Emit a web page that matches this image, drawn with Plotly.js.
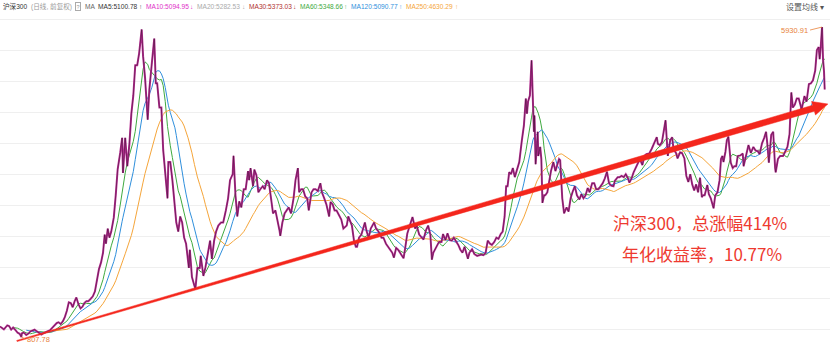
<!DOCTYPE html>
<html><head><meta charset="utf-8">
<script src="https://cdn.plot.ly/plotly-3.0.1.min.js"></script>
<style>html,body{margin:0;padding:0;background:#fff}#chart{width:830px;height:348px}</style>
</head><body><div id="chart"></div>
<script>
// ---- data (close prices, with the extreme highs/lows at turning points) ----
const dates = [
'2005-01-04','2005-01-17','2005-02-01','2005-02-25','2005-03-10','2005-03-25','2005-04-08','2005-04-25','2005-05-10','2005-05-25','2005-06-06','2005-06-10','2005-06-24','2005-07-11','2005-07-25','2005-08-10','2005-08-25','2005-09-09','2005-09-26','2005-10-14','2005-10-28','2005-11-11','2005-11-25','2005-12-09','2005-12-30',
'2006-01-13','2006-01-25','2006-02-15','2006-02-28','2006-03-15','2006-03-31','2006-04-14','2006-04-28','2006-05-12','2006-05-26','2006-06-09','2006-06-23','2006-07-05','2006-07-20','2006-08-04','2006-08-18','2006-09-01','2006-09-15','2006-09-29','2006-10-16','2006-10-31','2006-11-15','2006-11-30','2006-12-14','2006-12-29',
'2007-01-12','2007-01-24','2007-02-02','2007-02-15','2007-02-27','2007-03-12','2007-03-30','2007-04-13','2007-04-27','2007-05-15','2007-05-29','2007-06-04','2007-06-20','2007-07-05','2007-07-20','2007-08-03','2007-08-17','2007-08-31','2007-09-14','2007-09-28','2007-10-16','2007-10-26','2007-11-09','2007-11-28','2007-12-10','2007-12-28',
'2008-01-14','2008-01-25','2008-02-04','2008-02-20','2008-03-05','2008-03-18','2008-04-02','2008-04-18','2008-04-24','2008-05-08','2008-05-23','2008-06-10','2008-06-20','2008-07-04','2008-07-18','2008-08-01','2008-08-15','2008-08-29','2008-09-12','2008-09-18','2008-09-25','2008-10-10','2008-10-28','2008-11-04','2008-11-18','2008-12-05','2008-12-12','2008-12-31',
'2009-01-14','2009-02-04','2009-02-17','2009-03-02','2009-03-18','2009-04-01','2009-04-17','2009-05-06','2009-05-22','2009-06-10','2009-06-26','2009-07-10','2009-07-29','2009-08-04','2009-08-18','2009-08-31','2009-09-14','2009-09-29','2009-10-16','2009-10-30','2009-11-16','2009-11-24','2009-12-04','2009-12-22','2009-12-31',
'2010-01-15','2010-01-29','2010-02-12','2010-03-01','2010-03-15','2010-04-01','2010-04-15','2010-04-30','2010-05-14','2010-05-31','2010-06-15','2010-06-30','2010-07-05','2010-07-20','2010-08-05','2010-08-20','2010-09-03','2010-09-20','2010-10-08','2010-10-22','2010-11-08','2010-11-17','2010-12-01','2010-12-15','2010-12-31',
'2011-01-14','2011-01-25','2011-02-14','2011-02-28','2011-03-15','2011-03-31','2011-04-18','2011-04-29','2011-05-16','2011-05-31','2011-06-20','2011-06-30','2011-07-15','2011-07-29','2011-08-12','2011-08-31','2011-09-15','2011-09-30','2011-10-24','2011-11-04','2011-11-18','2011-11-30','2011-12-15','2011-12-28',
'2012-01-06','2012-01-20','2012-02-06','2012-02-24','2012-03-02','2012-03-15','2012-03-29','2012-04-13','2012-04-27','2012-05-07','2012-05-21','2012-06-08','2012-06-29','2012-07-13','2012-07-31','2012-08-15','2012-08-31','2012-09-14','2012-09-26','2012-10-12','2012-10-26','2012-11-15','2012-11-30','2012-12-04','2012-12-14','2012-12-31',
'2013-01-15','2013-02-06','2013-02-25','2013-03-08','2013-03-26','2013-04-15','2013-04-26','2013-05-15','2013-05-29','2013-06-14','2013-06-25','2013-07-05','2013-07-22','2013-08-05','2013-08-15','2013-09-02','2013-09-13','2013-09-30','2013-10-15','2013-10-31','2013-11-15','2013-11-29','2013-12-13','2013-12-31',
'2014-01-15','2014-01-30','2014-02-14','2014-02-28','2014-03-10','2014-03-21','2014-04-09','2014-04-25','2014-05-15','2014-05-30','2014-06-13','2014-06-30','2014-07-15','2014-07-30','2014-08-15','2014-08-29','2014-09-15','2014-09-30','2014-10-15','2014-10-31','2014-11-14','2014-11-28','2014-12-09','2014-12-19','2014-12-31',
'2015-01-13','2015-01-26','2015-02-09','2015-02-27','2015-03-13','2015-03-31','2015-04-15','2015-04-29','2015-05-07','2015-05-15','2015-05-28','2015-06-09','2015-06-19','2015-06-26','2015-06-30','2015-07-08','2015-07-15','2015-07-23','2015-07-27','2015-08-10','2015-08-18','2015-08-26','2015-09-07','2015-09-15','2015-09-30','2015-10-15','2015-10-26','2015-11-12','2015-11-27','2015-12-10','2015-12-23','2015-12-31',
'2016-01-07','2016-01-15','2016-01-28','2016-02-15','2016-02-29','2016-03-15','2016-03-31','2016-04-14','2016-04-29','2016-05-17','2016-05-31','2016-06-15','2016-06-30','2016-07-15','2016-07-29','2016-08-16','2016-08-31','2016-09-14','2016-09-30','2016-10-14','2016-10-31','2016-11-15','2016-11-30','2016-12-15','2016-12-30',
'2017-01-16','2017-01-26','2017-02-15','2017-02-28','2017-03-15','2017-03-31','2017-04-14','2017-04-28','2017-05-10','2017-05-24','2017-06-09','2017-06-22','2017-07-07','2017-07-24','2017-08-11','2017-08-25','2017-09-08','2017-09-29','2017-10-17','2017-10-31','2017-11-22','2017-11-30','2017-12-15','2017-12-29',
'2018-01-12','2018-01-24','2018-02-09','2018-02-26','2018-03-12','2018-03-23','2018-04-09','2018-04-20','2018-05-08','2018-05-22','2018-06-08','2018-06-22','2018-07-06','2018-07-20','2018-08-03','2018-08-17','2018-08-31','2018-09-14','2018-09-28','2018-10-11','2018-10-19','2018-10-31','2018-11-19','2018-11-30','2018-12-14','2018-12-28',
'2019-01-03','2019-01-15','2019-01-31','2019-02-15','2019-02-25','2019-03-07','2019-03-15','2019-03-29','2019-04-08','2019-04-19','2019-05-06','2019-05-20','2019-05-31','2019-06-14','2019-06-25','2019-07-15','2019-07-31','2019-08-06','2019-08-20','2019-09-10','2019-09-27','2019-10-15','2019-10-31','2019-11-15','2019-11-29','2019-12-16','2019-12-31',
'2020-01-14','2020-01-23','2020-02-03','2020-02-20','2020-03-05','2020-03-19','2020-03-23','2020-04-08','2020-04-24','2020-05-15','2020-05-29','2020-06-15','2020-06-30','2020-07-13','2020-07-24','2020-08-07','2020-08-21','2020-09-04','2020-09-25','2020-10-15','2020-10-30','2020-11-16','2020-11-30','2020-12-15','2020-12-31',
'2021-01-12','2021-01-25','2021-02-01','2021-02-10','2021-02-18','2021-02-25','2021-03-04','2021-03-09'];
const closes = [
982,960,935,1000,990,930,965,920,880,860,808,870,880,840,860,900,920,930,900,870,850,870,880,900,923,
960,1000,1040,1050,1020,1070,1140,1240,1380,1370,1300,1400,1460,1350,1280,1310,1370,1400,1400,1440,1480,1560,1790,1930,2041,
2200,2500,2350,2600,2450,2550,2780,3150,3580,3850,4100,3520,4100,3630,4000,4500,4800,5300,5300,5500,5891,5450,5100,4400,4900,5338,
5740,5000,5000,4600,4600,3900,3500,3100,3700,3700,3400,2950,2700,2550,2800,2700,2450,2350,2100,1950,2250,1800,1650,1606,1950,1950,2150,1817,
1950,2200,2400,2100,2400,2550,2650,2700,2700,2900,3100,3400,3500,3803,3150,2800,3050,2950,3250,3250,3550,3400,3600,3300,3575,
3480,3200,3250,3300,3250,3400,3350,3050,2850,2900,2750,2560,2480,2700,2850,2900,2950,2850,3100,3400,3600,3200,3250,3250,3128,
3100,2900,3200,3250,3250,3220,3350,3200,3100,3000,2800,3040,3000,2900,2900,2800,2750,2600,2650,2800,2700,2650,2400,2300,
2300,2450,2500,2650,2700,2550,2450,2600,2650,2700,2600,2550,2450,2450,2350,2300,2250,2200,2120,2280,2250,2180,2140,2110,2250,2520,
2630,2790,2600,2650,2500,2450,2420,2580,2650,2500,2086,2200,2280,2350,2380,2380,2510,2410,2520,2410,2400,2450,2400,2330,
2250,2200,2300,2180,2100,2200,2260,2180,2150,2160,2170,2160,2200,2400,2350,2330,2380,2450,2430,2510,2550,2800,3300,3300,3533,
3500,3600,3450,3600,3700,4050,4300,4750,4500,4700,4800,5380,4470,4200,4470,3663,3900,4200,3800,3950,3750,3025,3150,3150,3200,3400,3550,3700,3550,3650,3750,3731,
3300,3100,2853,2950,2880,3100,3220,3300,3150,3080,3170,3100,3150,3270,3200,3350,3350,3250,3250,3300,3350,3430,3540,3350,3310,
3300,3390,3450,3450,3470,3450,3500,3440,3360,3420,3530,3600,3650,3750,3650,3800,3830,3840,3920,4000,4110,4000,3980,4030,
4230,4390,3800,4060,4110,3900,3850,3760,3860,3850,3760,3470,3370,3500,3330,3230,3330,3200,3440,3120,3150,3150,3320,3170,3100,3010,
2935,3150,3200,3400,3750,3800,3700,3870,4060,4120,3690,3600,3630,3630,3800,3810,3840,3630,3780,3980,3850,3950,3890,3880,3830,4010,4096,
4200,4000,3690,4150,4200,3600,3530,3750,3800,3800,3870,3950,4160,4850,4600,4650,4750,4750,4570,4790,4700,4990,5000,5050,5211,
5550,5600,5400,5650,5930.91,5400,5200,4900];

const maPeriods = [60, 120, 250];                 // moving averages drawn on the chart
const maColors  = ['#3faa3f', '#2f8fdc', '#f5a53a'];
const legendNames  = ['MA5','MA10','MA20','MA30','MA60','MA120','MA250'];
const legendValues = ['5100.78','5094.95','5282.53','5373.03','5348.66','5090.77','4630.29'];
const legendArrows = ['↑','↓','↓','↓','↑','↑','↑'];
const legendColors = ['#333333','#e030c8','#aaaaaa','#b03030','#3faa3f','#2f8fdc','#f5a53a'];
const headerTitle = '沪深300', headerSub = '(日线, 前复权)', headerMA = 'MA', headerRight = '设置均线 ▾';
const peakDate = '2021-02-18', peakValue = 5930.91;
const lowDate  = '2005-06-06', lowValue  = 807.78;
const trendDates  = ['2005-05-05', '2021-04-01'];
const trendValues = [742, 4659];
const notes = ['沪深300，总涨幅414%', '年化收益率，10.77%'];

// ---- helpers ----
const W = 830, H = 348;
const xRange = ['2005-01-04', '2021-04-16'];
const yRange = [626, 6378];
const DAY = 86400000;
const t = dates.map(d => Date.parse(d));
const x0 = Date.parse(xRange[0]), x1 = Date.parse(xRange[1]);
const toPx = (ms, v) => [ (ms - x0) / (x1 - x0) * W, (yRange[1] - v) / (yRange[1] - yRange[0]) * H ];
const fromPx = (px, py) => [ x0 + px / W * (x1 - x0), yRange[1] - py / H * (yRange[1] - yRange[0]) ];

function valueAt(ms) {
  if (ms <= t[0]) return closes[0];
  for (let i = 1; i < t.length; i++) {
    if (ms <= t[i]) { const f = (ms - t[i-1]) / (t[i] - t[i-1]); return closes[i-1] + f * (closes[i] - closes[i-1]); }
  }
  return closes[closes.length - 1];
}
function movingAverage(n) {
  const win = n * 1.5 * DAY, xs = [], ys = [];
  for (let i = 0; i < t.length; i++) {
    const b = t[i], a = b - win;
    if (a < t[0]) continue;
    const pts = [a];
    for (let j = 0; j < t.length; j++) if (t[j] > a && t[j] < b) pts.push(t[j]);
    pts.push(b);
    let s = 0;
    for (let k = 1; k < pts.length; k++) s += (valueAt(pts[k-1]) + valueAt(pts[k])) / 2 * (pts[k] - pts[k-1]);
    xs.push(b); ys.push(s / win);
  }
  return {xs, ys};
}

const traces = [];
maPeriods.forEach((n, i) => {
  const m = movingAverage(n);
  traces.push({x: m.xs, y: m.ys, type: 'scatter', mode: 'lines', line: {color: maColors[i], width: 1}, hoverinfo: 'skip'});
});
traces.push({x: dates, y: closes, type: 'scatter', mode: 'lines', line: {color: '#bb2f95', width: 2}, hoverinfo: 'skip'});
traces.push({x: dates, y: closes, type: 'scatter', mode: 'lines', line: {color: '#2a0e24', width: 0.6}, opacity: 0.8, hoverinfo: 'skip'});

// tapered trend arrow, built from its two data end points
(function () {
  const P0 = toPx(Date.parse(trendDates[0]), trendValues[0]);
  const P1 = toPx(Date.parse(trendDates[1]), trendValues[1]);
  const dx = P1[0] - P0[0], dy = P1[1] - P0[1], L = Math.hypot(dx, dy);
  const u = [dx / L, dy / L], nrm = [-u[1], u[0]];
  const h0 = 0.6, h1 = 3.1, headLen = 15, hw = 7;
  const Pb = [P1[0] - u[0] * headLen, P1[1] - u[1] * headLen];
  const off = (P, h) => [P[0] + nrm[0] * h, P[1] + nrm[1] * h];
  const poly = [off(P0, h0), off(Pb, h1), off(Pb, hw), P1, off(Pb, -hw), off(Pb, -h1), off(P0, -h0), off(P0, h0)];
  const xs = [], ys = [];
  poly.forEach(p => { const d = fromPx(p[0], p[1]); xs.push(d[0]); ys.push(d[1]); });
  traces.push({x: xs, y: ys, type: 'scatter', mode: 'lines', fill: 'toself', fillcolor: '#f4261c', line: {color: '#f4261c', width: 0.5}, hoverinfo: 'skip'});
})();

// ---- header row laid out with measured text widths ----
const FS = 6.6, FAM = 'Liberation Sans, Noto Sans CJK SC, sans-serif';
const ctx = document.createElement('canvas').getContext('2d');
ctx.font = FS + 'px "Liberation Sans", "Noto Sans CJK SC", sans-serif';
const mw = s => ctx.measureText(s).width;
const px = v => v / W, py = v => 1 - v / H;
const ann = [];
const hdr = (x, text, color, extra) => ann.push(Object.assign({xref: 'paper', yref: 'paper', x: px(x), y: py(7), xanchor: 'left', yanchor: 'middle',
  showarrow: false, text: text, font: {family: FAM, size: FS, color: color}, borderpad: 0}, extra || {}));
let cx = 2;
hdr(cx, headerTitle, '#333'); cx += mw(headerTitle) + 4;
hdr(cx, headerSub, '#999'); cx += mw(headerSub) + 4;
hdr(cx, '?', '#999', {font: {family: FAM, size: 5.5, color: '#999'}, bordercolor: '#aaa', borderwidth: 1, borderpad: 0.5}); cx += 9;
hdr(cx, headerMA, '#666'); cx += mw(headerMA) + 3;
const labels = legendNames.map((nm, i) => nm + ':' + legendValues[i]);
const arrowW = 5;
const natural = labels.reduce((s, l) => s + mw(l) + 1.5 + arrowW, 0);
const gap = Math.max(2, (424 - cx - natural) / (labels.length - 1));
labels.forEach((lab, i) => {
  hdr(cx, lab, legendColors[i]); cx += mw(lab) + 1.5;
  hdr(cx, legendArrows[i], legendColors[i]); cx += arrowW + gap;
});
ann.push({xref: 'paper', yref: 'paper', x: px(826), y: py(7), xanchor: 'right', yanchor: 'middle', showarrow: false, text: headerRight, font: {family: FAM, size: 8, color: '#555'}});

const small = {family: FAM, size: 7.5, color: '#e8823a'};
ann.push({x: peakDate, y: peakValue, xref: 'x', yref: 'y', text: peakValue.toFixed(2), showarrow: true, arrowhead: 0, arrowwidth: 0.8, arrowcolor: '#e8823a',
  ax: -12, ay: 3, xanchor: 'right', yanchor: 'middle', standoff: 0, font: small});
ann.push({x: lowDate, y: lowValue, xref: 'x', yref: 'y', text: lowValue.toFixed(2), showarrow: true, arrowhead: 0, arrowwidth: 0.8, arrowcolor: '#e8823a',
  ax: 4, ay: 2, xanchor: 'left', yanchor: 'middle', standoff: 0, font: small});
ann.push({xref: 'paper', yref: 'paper', x: px(700), y: py(222), xanchor: 'center', yanchor: 'middle', showarrow: false, text: notes[0], font: {family: 'Noto Sans CJK SC, sans-serif', size: 17, color: '#ee3a30'}});
ann.push({xref: 'paper', yref: 'paper', x: px(702), y: py(253), xanchor: 'center', yanchor: 'middle', showarrow: false, text: notes[1], font: {family: 'Noto Sans CJK SC, sans-serif', size: 17, color: '#ee3a30'}});

const layout = {
  width: W, height: H, margin: {l: 0, r: 0, t: 0, b: 0},
  paper_bgcolor: '#ffffff', plot_bgcolor: '#ffffff', showlegend: false,
  xaxis: {type: 'date', range: xRange, showgrid: false, showticklabels: false, zeroline: false, ticks: '', fixedrange: true},
  yaxis: {range: yRange, tick0: 940, dtick: 512.4, showgrid: true, gridcolor: '#efefef', gridwidth: 1, showticklabels: false, zeroline: false, ticks: '',
          showline: true, linecolor: '#e6e6e6', fixedrange: true},
  annotations: ann
};
Plotly.newPlot('chart', traces, layout, {staticPlot: true, displayModeBar: false});
</script>
</body></html>
